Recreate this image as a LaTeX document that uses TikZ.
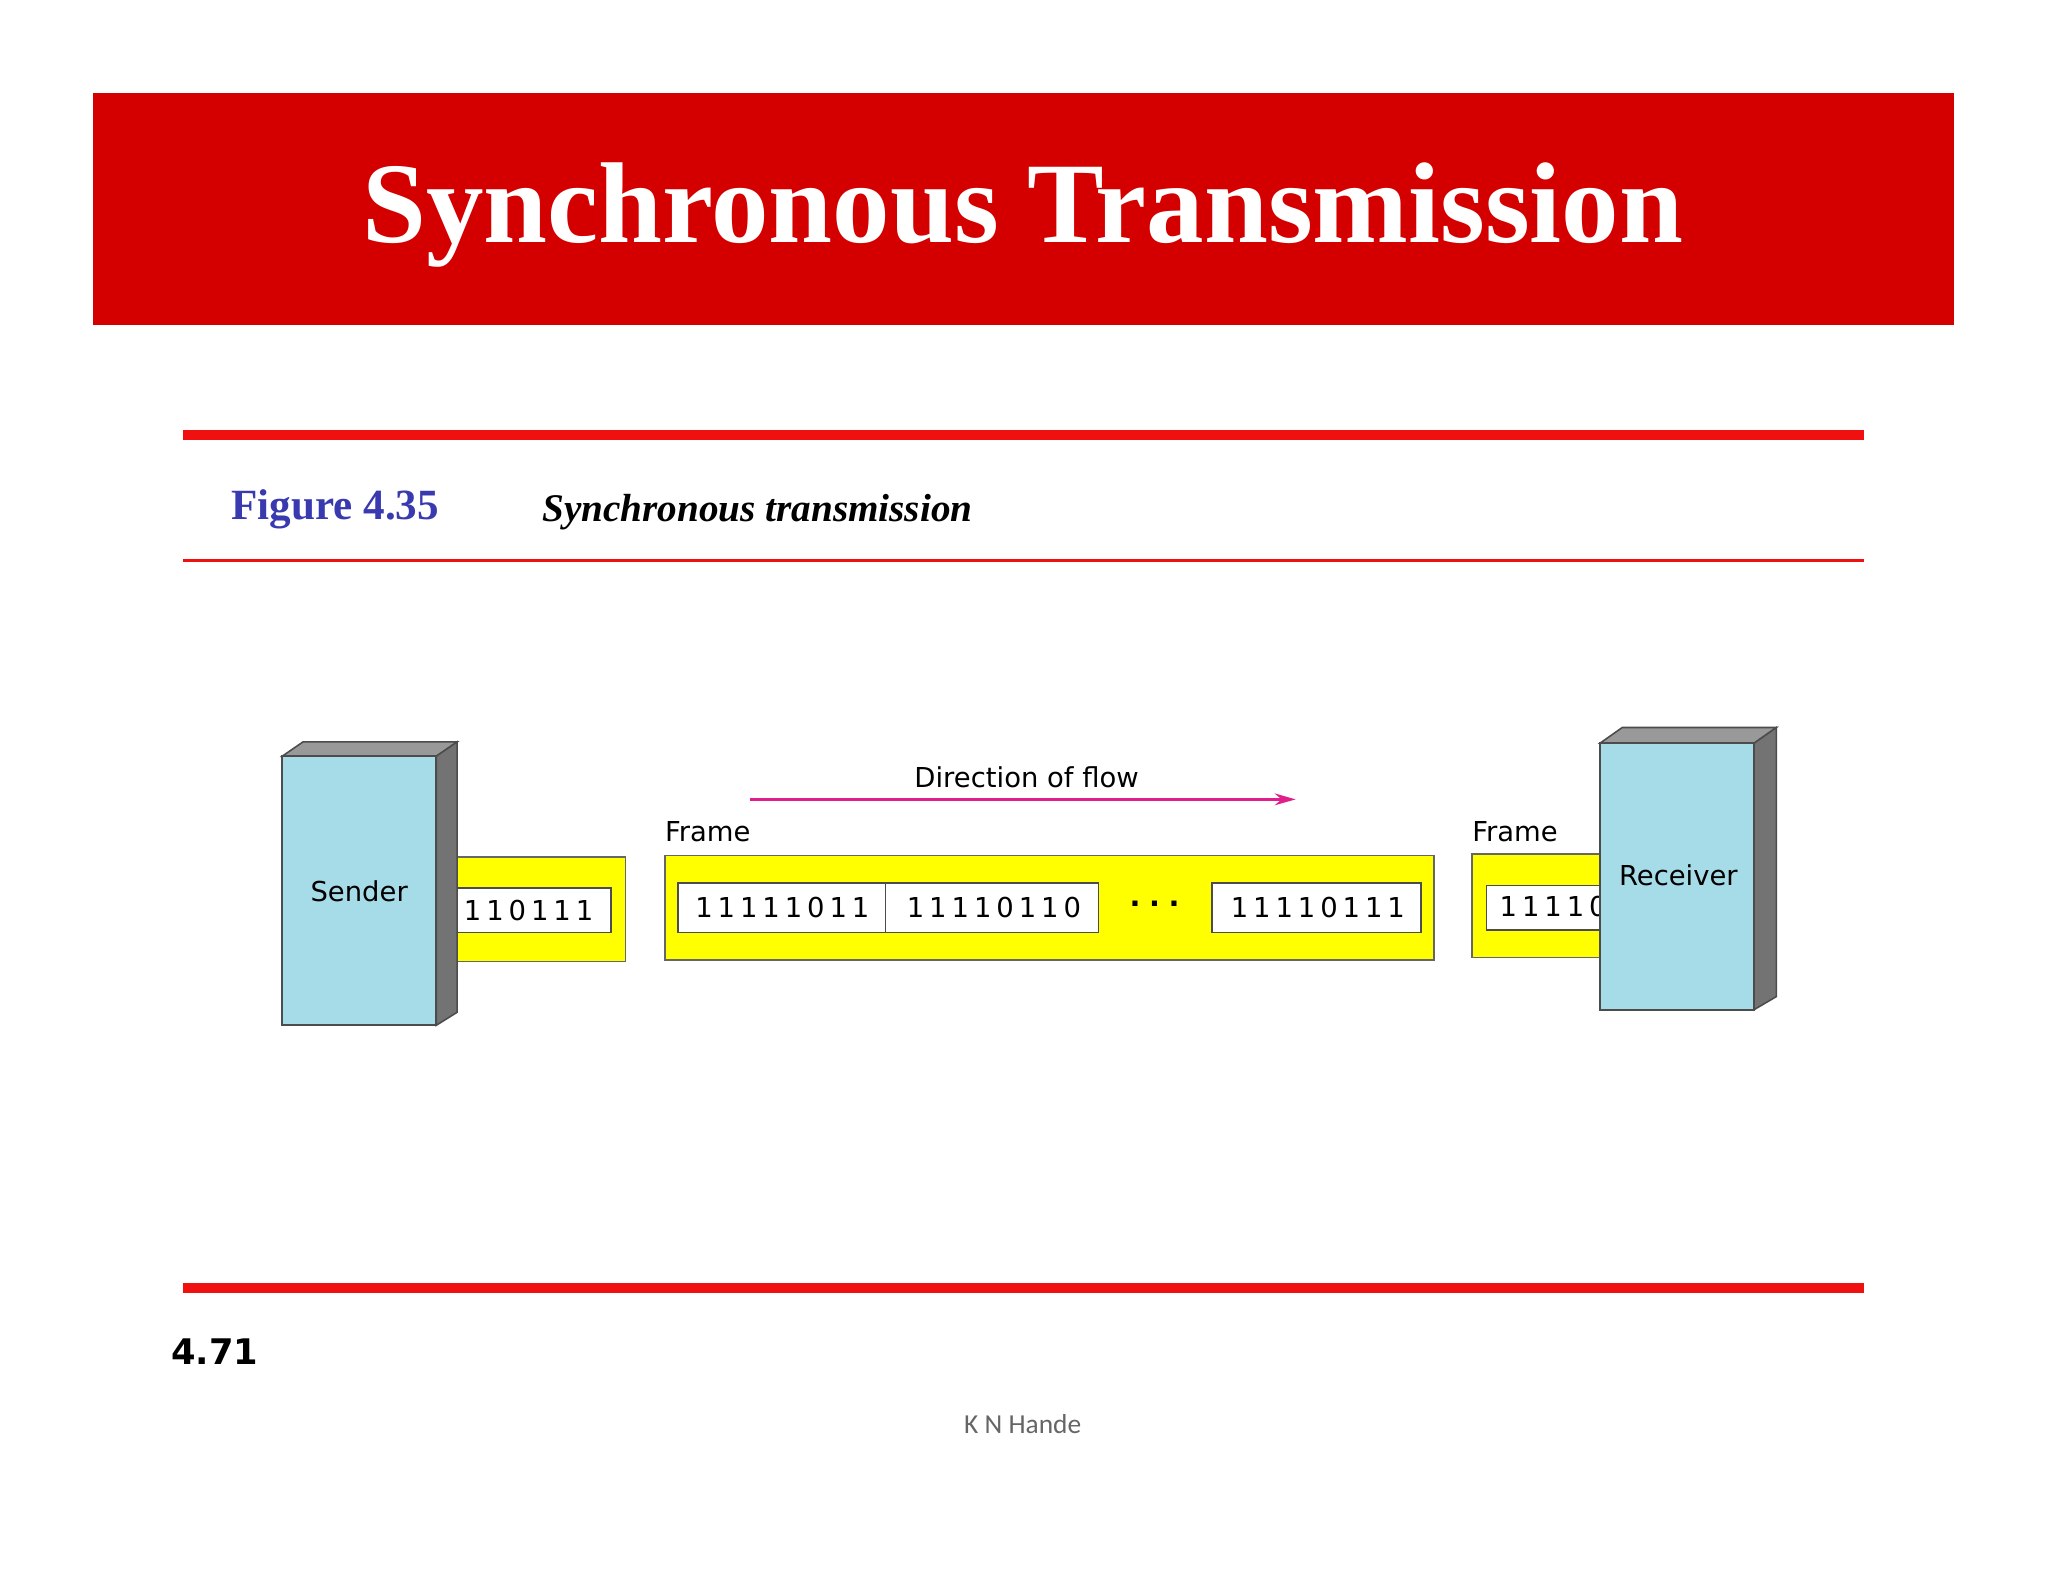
\documentclass[tikz,border=0pt]{standalone}
\usepackage{fontspec}
\setmainfont{Liberation Serif}
\setsansfont{DejaVu Sans}
\newfontfamily\carlitofont{Carlito}
\usetikzlibrary{arrows.meta}
\definecolor{tred}{HTML}{D40000}
\definecolor{lred}{HTML}{F01010}
\definecolor{fblue}{HTML}{3A3AB0}
\definecolor{sky}{HTML}{A6DCE8}
\definecolor{yel}{HTML}{FFFF00}
\definecolor{mag}{HTML}{E0208A}
\begin{document}
\begin{tikzpicture}[x=1pt,y=-1pt,
  lab/.style={font=\sffamily\fontsize{21}{21}\selectfont,inner sep=0pt},
  bits/.style={font=\sffamily\fontsize{21}{21}\selectfont\addfontfeature{LetterSpace=18},inner sep=0pt},
  wbox/.style={draw=black!70,line width=1.2pt,fill=white},
  ybox/.style={draw=black!60,line width=1.2pt,fill=yel},
  front/.style={draw=black!70,line width=1.5pt,fill=sky},
  topf/.style={draw=black!70,line width=1.2pt,fill=black!40},
  sidef/.style={draw=black!70,line width=1.2pt,fill=black!55}]
\useasboundingbox (0,0) rectangle (1568,1211);
\fill[white] (0,0) rectangle (1568,1211);
\fill[tred] (71,71) rectangle (1496,249);
\node[text=white,font=\bfseries\fontsize{88}{88}\selectfont] (title) at (783,165) {Synchronous Transmission};
\fill[lred] (140,329) rectangle (1427,337);
\fill[lred] (140,428) rectangle (1427,430);
\node[anchor=west,text=fblue,font=\bfseries\fontsize{33}{33}\selectfont,inner sep=0pt] (fig) at (177,390) {Figure 4.35};
\node[anchor=west,font=\bfseries\itshape\fontsize{30}{30}\selectfont,inner sep=0pt] (cap) at (415,392) {Synchronous transmission};
% sender strip
\draw[ybox] (340,656) rectangle (479,736);
\draw[wbox] (350,680) rectangle (468,714);
\node[bits,anchor=west] (b0) at (355,697) {110111};
% sender
\draw[topf] (216,579) -- (334,579) -- (350,568) -- (232,568) -- cycle;
\draw[sidef] (334,579) -- (350,568) -- (350,775) -- (334,785) -- cycle;
\draw[front] (216,579) rectangle (334,785);
\node[lab] (sender) at (275,682) {Sender};
% main frame
\node[lab,anchor=west] (f1) at (509,637) {Frame};
\draw[ybox] (509,655) rectangle (1098,735);
\draw[wbox] (519,676) rectangle (678,714);
\draw[wbox] (678,676) rectangle (841,714);
\draw[wbox] (928,676) rectangle (1088,714);
\node[bits] (b1) at (599,695) {11111011};
\node[bits] (b2) at (761,695) {11110110};
\node[bits] (b3) at (1009,695) {11110111};
\node[font=\sffamily\bfseries\fontsize{22}{22}\selectfont\addfontfeature{LetterSpace=30}] (dots) at (884,692) {...};
% arrow
\coordinate (a1) at (574,612); \coordinate (a2) at (992,612);
\draw[mag,line width=2pt,-{Stealth[length=16pt,width=9pt]}] (a1) -- (a2);
\node[lab] (dir) at (786,595) {Direction of flow};
% receiver strip
\node[lab,anchor=west] (f2) at (1127,637) {Frame};
\draw[ybox] (1127,654) rectangle (1240,733);
\draw[wbox] (1138,678) rectangle (1240,712);
\begin{scope}
\clip (1138,678) rectangle (1228,712);
\node[bits,anchor=west] (b4) at (1148,694) {11110111};
\end{scope}
% receiver
\draw[topf] (1225,569) -- (1343,569) -- (1360,557) -- (1242,557) -- cycle;
\draw[sidef] (1343,569) -- (1360,557) -- (1360,763) -- (1343,773) -- cycle;
\draw[front] (1225,569) rectangle (1343,773);
\node[lab] (recv) at (1285,670) {Receiver};
% bottom
\fill[lred] (140,982) rectangle (1427,990);
\node[anchor=west,font=\sffamily\bfseries\fontsize{27}{27}\selectfont,inner sep=0pt] (pg) at (131,1035) {4.71};
\node[text=black!60,font=\carlitofont\fontsize{21}{21}\selectfont] (auth) at (783,1090) {K N Hande};
\end{tikzpicture}
\end{document}
